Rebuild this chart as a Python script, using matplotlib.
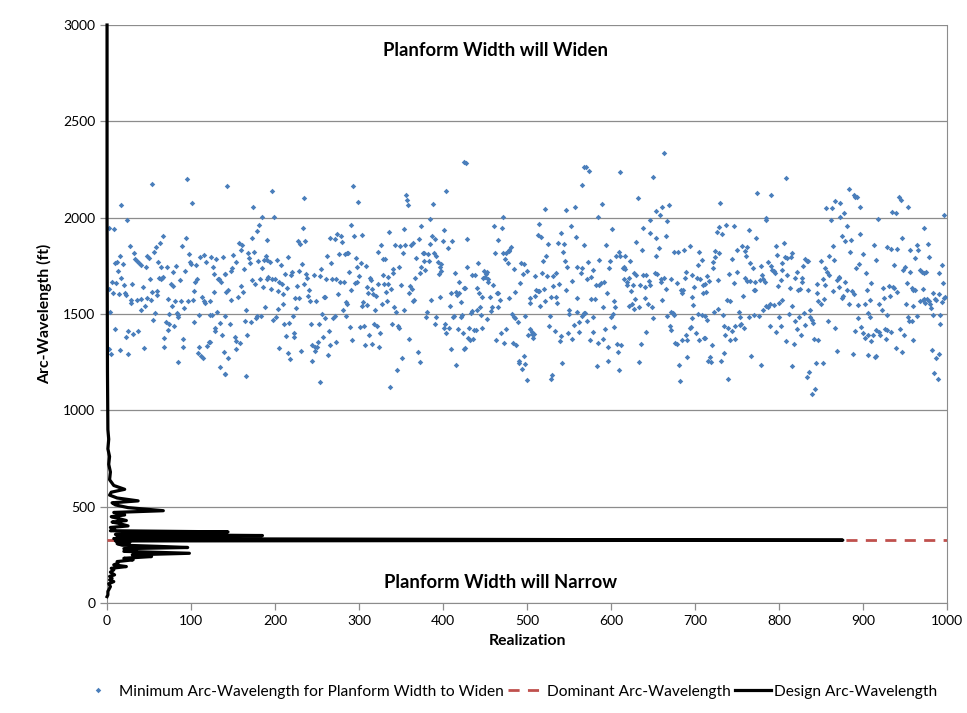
import numpy as np
import matplotlib.pyplot as plt
from matplotlib.lines import Line2D

plt.rcParams['font.family'] = ['Lato', 'DejaVu Sans']

# minimum arc-wavelength for planform width to widen (realization, ft)
min_points = [
    (53, 2176), (95, 2202), (101, 2076), (17, 2067), (2, 1948), (8, 1941), (24, 1989), (67, 1905), (94, 1896),
    (27, 1855), (63, 1867), (58, 1848), (56, 1823), (89, 1855), (32, 1818), (15, 1801), (9, 1766), (12, 1772),
    (19, 1758), (33, 1787), (36, 1775), (38, 1763), (40, 1752), (48, 1801), (50, 1792), (46, 1746), (61, 1768),
    (64, 1746), (71, 1744), (82, 1749), (78, 1718), (93, 1723), (98, 1813), (100, 1761), (99, 1770), (106, 1754),
    (111, 1796), (115, 1806), (118, 1768), (124, 1794), (130, 1784), (126, 1744), (138, 1796), (127, 1709),
    (132, 1683), (136, 1668), (140, 1709), (13, 1723), (17, 1688), (6, 1668), (11, 1662), (20, 1650), (30, 1654),
    (7, 1611), (14, 1604), (21, 1611), (22, 1600), (29, 1571), (29, 1557), (36, 1571), (40, 1579), (41, 1521),
    (43, 1638), (45, 1540), (47, 1583), (52, 1571), (51, 1682), (54, 1616), (59, 1598), (60, 1617), (62, 1685),
    (66, 1688), (64, 1680), (67, 1692), (76, 1657), (79, 1645), (73, 1579), (77, 1543), (81, 1566), (83, 1503),
    (85, 1495), (84, 1486), (87, 1675), (88, 1567), (92, 1533), (96, 1567), (102, 1573), (103, 1621), (105, 1668),
    (107, 1682), (113, 1586), (115, 1567), (117, 1557), (123, 1567), (123, 1495), (127, 1616), (133, 1682),
    (131, 1509), (134, 1451), (140, 1491), (2, 1631), (4, 1509), (55, 1467), (57, 1507), (74, 1498), (109, 1496),
    (125, 1496), (104, 1458), (70, 1458), (72, 1417), (68, 1377), (74, 1448), (80, 1438), (68, 1330), (10, 1420),
    (25, 1412), (31, 1396), (37, 1412), (23, 1382), (2, 1318), (5, 1291), (16, 1315), (25, 1291), (44, 1323),
    (85, 1251), (90, 1370), (91, 1330), (110, 1330), (108, 1297), (112, 1282), (114, 1273), (119, 1332),
    (121, 1353), (123, 1356), (128, 1425), (129, 1410), (137, 1391), (139, 1304), (134, 1227), (140, 1188),
    # 140 - 285
    (143, 2164), (196, 2138), (235, 2104), (174, 2053), (185, 2005), (199, 2002), (181, 1964), (178, 1932),
    (233, 1948), (173, 1894), (191, 1882), (227, 1877), (230, 1865), (236, 1879), (265, 1896), (271, 1891),
    (274, 1915), (279, 1903), (280, 1874), (157, 1870), (161, 1858), (160, 1832), (150, 1808), (168, 1818),
    (175, 1823), (169, 1790), (170, 1766), (153, 1770), (180, 1773), (187, 1782), (189, 1803), (191, 1778),
    (194, 1768), (202, 1778), (207, 1756), (215, 1797), (184, 1739), (262, 1803), (267, 1766), (276, 1813),
    (283, 1810), (149, 1739), (147, 1725), (163, 1735), (212, 1706), (219, 1704), (220, 1716), (229, 1723),
    (232, 1761), (237, 1706), (238, 1688), (246, 1704), (253, 1697), (255, 1733), (261, 1683), (268, 1683),
    (272, 1683), (277, 1668), (282, 1666), (141, 1709), (172, 1676), (176, 1657), (182, 1680), (190, 1683),
    (192, 1692), (196, 1682), (200, 1682), (205, 1668), (208, 1657), (214, 1633), (226, 1647), (234, 1657),
    (186, 1638), (195, 1631), (204, 1617), (210, 1604), (159, 1647), (162, 1612), (144, 1623), (142, 1616),
    (148, 1574), (156, 1588), (240, 1623), (239, 1592), (224, 1583), (228, 1583), (242, 1566), (249, 1567),
    (258, 1588), (260, 1590), (275, 1605), (281, 1522), (209, 1553), (188, 1535), (203, 1526), (225, 1533),
    (166, 1522), (177, 1481), (179, 1488), (183, 1491), (201, 1486), (198, 1470), (221, 1491), (164, 1465),
    (171, 1460), (146, 1446), (211, 1448), (217, 1453), (243, 1446), (252, 1446), (256, 1500), (259, 1481),
    (269, 1481), (271, 1488), (264, 1413), (257, 1379), (251, 1355), (266, 1341), (273, 1355), (167, 1389),
    (152, 1379), (154, 1360), (158, 1351), (213, 1386), (222, 1400), (223, 1379), (205, 1325), (216, 1299),
    (218, 1268), (231, 1308), (244, 1337), (247, 1329), (250, 1329), (248, 1310), (263, 1287), (244, 1258),
    (154, 1316), (144, 1273), (141, 1190), (165, 1180), (254, 1147),
    # 285 - 425
    (425, 2287), (293, 2166), (299, 2081), (356, 2116), (357, 2093), (358, 2066), (388, 2071), (404, 2140),
    (384, 1995), (290, 1962), (294, 1906), (304, 1908), (336, 1927), (353, 1941), (374, 1955), (387, 1906),
    (390, 1887), (401, 1936), (400, 1877), (411, 1877), (406, 1842), (286, 1818), (287, 1815), (326, 1858),
    (343, 1860), (349, 1853), (355, 1860), (362, 1858), (364, 1868), (371, 1891), (385, 1863), (352, 1817),
    (322, 1822), (376, 1818), (377, 1817), (382, 1813), (389, 1818), (392, 1803), (368, 1792), (296, 1789),
    (302, 1766), (308, 1751), (297, 1746), (329, 1785), (331, 1785), (347, 1744), (341, 1732), (377, 1773),
    (383, 1773), (374, 1744), (394, 1772), (398, 1758), (396, 1744), (398, 1725), (379, 1728), (373, 1714),
    (288, 1716), (300, 1695), (328, 1702), (334, 1694), (340, 1713), (367, 1687), (395, 1706), (414, 1711),
    (295, 1662), (298, 1668), (313, 1685), (314, 1675), (322, 1654), (330, 1656), (335, 1656), (350, 1652),
    (361, 1647), (363, 1631), (291, 1624), (310, 1638), (316, 1631), (311, 1611), (317, 1605), (320, 1593),
    (332, 1612), (338, 1628), (359, 1607), (419, 1668), (425, 1633), (409, 1611), (415, 1616), (417, 1600),
    (419, 1607), (284, 1564), (286, 1553), (305, 1562), (333, 1569), (327, 1552), (364, 1569), (366, 1573),
    (386, 1571), (396, 1586), (422, 1560), (303, 1541), (309, 1547), (342, 1535), (319, 1521), (344, 1512),
    (354, 1521), (381, 1510), (408, 1541), (284, 1488), (380, 1483), (392, 1483), (412, 1484), (413, 1488),
    (421, 1486), (423, 1495), (289, 1434), (301, 1434), (306, 1439), (318, 1450), (321, 1439), (339, 1450),
    (346, 1438), (348, 1429), (390, 1446), (402, 1448), (401, 1426), (407, 1429), (418, 1420), (424, 1401),
    (404, 1400), (312, 1393), (325, 1403), (292, 1363), (307, 1341), (315, 1344), (324, 1330), (360, 1370),
    (370, 1301), (372, 1251), (351, 1270), (410, 1318), (425, 1320), (416, 1237), (345, 1209), (337, 1121),
    # 425 - 570
    (427, 2284), (568, 2261), (566, 2168), (521, 2045), (546, 2040), (557, 2057), (471, 2005), (461, 1958),
    (470, 1946), (514, 1967), (552, 1958), (513, 1912), (517, 1900), (540, 1920), (429, 1891), (466, 1886),
    (558, 1900), (525, 1865), (537, 1868), (544, 1865), (568, 1856), (481, 1849), (479, 1834), (478, 1825),
    (475, 1817), (472, 1815), (462, 1817), (543, 1823), (523, 1799), (474, 1784), (477, 1763), (493, 1765),
    (497, 1761), (519, 1773), (545, 1773), (442, 1766), (428, 1742), (548, 1742), (560, 1744), (565, 1739),
    (484, 1735), (500, 1725), (495, 1709), (564, 1711), (435, 1702), (438, 1701), (449, 1723), (451, 1709),
    (452, 1716), (450, 1694), (448, 1687), (454, 1683), (453, 1664), (460, 1650), (510, 1695), (518, 1714),
    (524, 1697), (531, 1699), (534, 1711), (554, 1673), (492, 1663), (538, 1657), (531, 1647), (440, 1637),
    (443, 1611), (464, 1611), (466, 1607), (486, 1612), (511, 1626), (513, 1621), (514, 1619), (520, 1631),
    (547, 1624), (426, 1633), (446, 1586), (456, 1590), (468, 1573), (479, 1583), (503, 1583), (509, 1592),
    (528, 1590), (535, 1588), (560, 1585), (521, 1569), (504, 1559), (516, 1541), (536, 1557), (444, 1538),
    (440, 1522), (458, 1536), (457, 1514), (465, 1538), (434, 1514), (433, 1505), (445, 1495), (482, 1498),
    (484, 1484), (486, 1477), (489, 1457), (498, 1488), (527, 1491), (550, 1522), (550, 1500), (559, 1509),
    (568, 1507), (452, 1472), (566, 1491), (556, 1444), (562, 1460), (431, 1429), (437, 1415), (439, 1417),
    (447, 1429), (475, 1420), (504, 1420), (506, 1406), (506, 1398), (508, 1398), (501, 1391), (507, 1377),
    (526, 1436), (533, 1412), (541, 1386), (549, 1400), (562, 1408), (554, 1370), (539, 1358), (469, 1401),
    (430, 1377), (432, 1363), (436, 1372), (426, 1322), (463, 1363), (473, 1351), (483, 1348), (487, 1337),
    (496, 1280), (491, 1258), (490, 1246), (498, 1239), (494, 1214), (500, 1159), (530, 1185), (529, 1161),
    (542, 1246),
    # 570 - 712
    (663, 2334), (570, 2265), (574, 2244), (611, 2237), (650, 2209), (632, 2100), (589, 2073), (654, 2036),
    (661, 2057), (669, 2067), (658, 2012), (585, 2005), (647, 1989), (667, 1984), (601, 1941), (638, 1946),
    (646, 1922), (665, 1906), (654, 1896), (630, 1872), (594, 1858), (657, 1844), (637, 1830), (675, 1823),
    (680, 1823), (687, 1834), (694, 1853), (705, 1823), (609, 1820), (606, 1799), (611, 1803), (617, 1801),
    (653, 1799), (708, 1778), (586, 1778), (599, 1773), (623, 1775), (573, 1770), (703, 1754), (598, 1739),
    (614, 1737), (615, 1744), (617, 1733), (579, 1730), (689, 1720), (627, 1713), (630, 1701), (638, 1704),
    (642, 1704), (652, 1713), (655, 1708), (697, 1702), (576, 1694), (571, 1683), (615, 1683), (622, 1685),
    (663, 1687), (660, 1682), (672, 1680), (688, 1685), (702, 1687), (706, 1683), (645, 1671), (659, 1664),
    (592, 1668), (588, 1659), (582, 1652), (586, 1652), (619, 1664), (619, 1652), (626, 1652), (635, 1652),
    (647, 1652), (678, 1662), (710, 1652), (710, 1609), (640, 1642), (699, 1640), (665, 1631), (624, 1621),
    (683, 1623), (686, 1626), (684, 1611), (595, 1609), (576, 1578), (581, 1579), (640, 1585), (629, 1579),
    (661, 1574), (696, 1588), (604, 1569), (644, 1550), (621, 1543), (625, 1550), (633, 1538), (627, 1528),
    (649, 1538), (590, 1534), (605, 1538), (698, 1547), (672, 1512), (674, 1505), (675, 1495), (704, 1500),
    (708, 1495), (712, 1489), (602, 1502), (569, 1507), (579, 1486), (600, 1483), (571, 1465), (650, 1481),
    (667, 1488), (696, 1479), (670, 1436), (671, 1415), (694, 1429), (695, 1432), (603, 1432), (593, 1422),
    (578, 1405), (642, 1408), (689, 1393), (701, 1403), (575, 1365), (584, 1348), (590, 1370), (607, 1346),
    (612, 1339), (596, 1329), (636, 1346), (676, 1349), (678, 1342), (685, 1363), (690, 1365), (705, 1367),
    (711, 1374), (608, 1304), (583, 1232), (596, 1256), (609, 1209), (633, 1251), (691, 1278), (681, 1237),
    (682, 1152),
    # 712 - 855
    (808, 2207), (774, 2130), (791, 2118), (784, 2000), (785, 1989), (730, 2078), (726, 1924), (732, 1915),
    (729, 1951), (737, 1960), (746, 1957), (764, 1934), (773, 1896), (806, 1867), (796, 1851), (756, 1855),
    (762, 1849), (750, 1834), (760, 1829), (724, 1829), (728, 1817), (798, 1806), (761, 1803), (744, 1785),
    (724, 1797), (807, 1794), (810, 1789), (814, 1797), (816, 1818), (831, 1785), (833, 1777), (835, 1775),
    (850, 1773), (722, 1768), (765, 1763), (804, 1765), (721, 1739), (769, 1740), (778, 1751), (787, 1770),
    (791, 1751), (792, 1730), (794, 1723), (795, 1713), (804, 1730), (828, 1751), (821, 1716), (810, 1702),
    (780, 1702), (714, 1699), (741, 1706), (750, 1720), (717, 1671), (727, 1676), (759, 1688), (762, 1671),
    (766, 1671), (771, 1664), (777, 1678), (781, 1682), (783, 1668), (802, 1676), (819, 1685), (827, 1688),
    (827, 1668), (746, 1662), (712, 1657), (799, 1647), (813, 1633), (823, 1623), (825, 1628), (834, 1624),
    (845, 1657), (852, 1682), (770, 1626), (772, 1623), (757, 1593), (738, 1571), (742, 1567), (845, 1611),
    (847, 1567), (850, 1550), (853, 1579), (713, 1614), (804, 1574), (800, 1557), (789, 1550), (794, 1547),
    (784, 1540), (787, 1536), (781, 1522), (815, 1540), (727, 1528), (723, 1509), (733, 1495), (752, 1512),
    (753, 1483), (755, 1450), (770, 1496), (764, 1484), (776, 1488), (812, 1500), (800, 1483), (824, 1483),
    (830, 1505), (837, 1521), (837, 1483), (839, 1469), (841, 1451), (714, 1469), (734, 1436), (739, 1429),
    (744, 1413), (748, 1439), (754, 1443), (758, 1427), (789, 1436), (802, 1439), (796, 1408), (819, 1465),
    (822, 1424), (831, 1441), (826, 1391), (736, 1393), (742, 1365), (748, 1370), (712, 1374), (720, 1339),
    (808, 1361), (818, 1344), (842, 1368), (847, 1367), (735, 1296), (767, 1284), (718, 1275), (716, 1256),
    (719, 1253), (731, 1256), (778, 1233), (816, 1232), (844, 1247), (852, 1244), (836, 1199), (833, 1171),
    (739, 1164), (843, 1112), (839, 1086),
    # 855 - 1000
    (883, 2149), (889, 2116), (891, 2109), (893, 2109), (867, 2088), (873, 2076), (856, 2048), (863, 2048),
    (897, 2055), (877, 2026), (873, 2005), (862, 1989), (943, 2105), (945, 2090), (954, 2053), (935, 2031),
    (939, 2024), (918, 1995), (997, 2015), (881, 1957), (973, 1946), (875, 1906), (897, 1913), (879, 1879),
    (886, 1882), (946, 1894), (864, 1855), (913, 1860), (928, 1846), (933, 1835), (941, 1835), (964, 1860),
    (977, 1863), (956, 1832), (966, 1830), (885, 1822), (900, 1813), (859, 1801), (866, 1782), (916, 1778),
    (962, 1789), (979, 1797), (895, 1761), (892, 1739), (937, 1752), (950, 1746), (948, 1730), (956, 1720),
    (968, 1727), (970, 1716), (973, 1713), (975, 1716), (990, 1714), (994, 1752), (855, 1740), (857, 1718),
    (860, 1702), (904, 1711), (869, 1676), (871, 1685), (872, 1690), (879, 1668), (910, 1661), (952, 1659),
    (995, 1661), (855, 1650), (871, 1642), (931, 1643), (936, 1640), (937, 1635), (924, 1635), (958, 1636),
    (960, 1626), (962, 1626), (972, 1631), (864, 1621), (881, 1623), (887, 1621), (889, 1602), (905, 1623),
    (941, 1616), (983, 1611), (990, 1605), (996, 1585), (998, 1590), (876, 1595), (875, 1585), (932, 1595),
    (925, 1583), (968, 1569), (971, 1574), (973, 1579), (976, 1576), (978, 1569), (974, 1557), (980, 1552),
    (981, 1529), (986, 1578), (987, 1571), (994, 1564), (883, 1554), (894, 1545), (902, 1550), (908, 1573),
    (919, 1552), (951, 1550), (960, 1541), (923, 1522), (906, 1505), (908, 1486), (929, 1495), (954, 1483),
    (964, 1490), (983, 1495), (992, 1496), (894, 1481), (858, 1464), (867, 1426), (890, 1413), (898, 1432),
    (900, 1401), (916, 1419), (919, 1405), (920, 1391), (926, 1422), (928, 1419), (912, 1389), (933, 1405),
    (944, 1424), (949, 1393), (955, 1465), (958, 1462), (992, 1446), (902, 1375), (906, 1389), (910, 1358),
    (927, 1372), (960, 1367), (939, 1322), (947, 1301), (869, 1310), (888, 1292), (906, 1289), (914, 1277),
    (915, 1284), (982, 1311), (991, 1292), (987, 1270), (985, 1195), (989, 1162),
]

# design arc-wavelength curve: count (x) against wavelength (y), from top to bottom
design_wavelength = [3000, 2000, 1200, 900, 850, 800, 760, 720, 680, 640, 610, 590, 575, 560, 545, 530, 520,
                     509, 495, 479, 470, 457, 448, 440, 428, 420, 414, 400, 392, 383, 375, 369, 365, 362, 356,
                     350, 345, 340, 334, 326, 322, 318, 314, 308, 300, 294, 288, 282, 276, 268, 258, 250, 241,
                     232, 224, 215, 206, 198, 189, 180, 172, 160, 146, 138, 128, 120, 111, 100, 85, 60, 42, 33]
design_count = [0, 0, 0.5, 1, 2, 1, 3, 2, 4, 3, 8, 21, 5, 3, 12, 37, 6,
                10, 25, 67, 8, 21, 5, 12, 23, 6, 13, 25, 4, 9, 4, 144, 20, 51, 10,
                185, 12, 31, 8, 876, 10, 20, 27, 12, 18, 60, 96, 20, 35, 20, 98, 30, 53,
                20, 31, 12, 13, 8, 23, 5, 8, 4, 9, 3, 6, 3, 8, 2, 4, 1, 1, 0]

dominant_wavelength = 328

realization = [p[0] for p in min_points]
min_arc = [p[1] for p in min_points]

fig = plt.figure(figsize=(9.67, 7.13), dpi=100)
ax = fig.add_axes([0.1107, 0.1543, 0.8686, 0.8106])

grid_col = '#8c8c8c'
ax.set_xlim(0, 1000)
ax.set_ylim(0, 3000)
ax.set_yticks(np.arange(0, 3001, 500))
ax.set_xticks(np.arange(0, 1001, 100))
ax.yaxis.grid(True, color=grid_col, lw=0.9)
ax.set_axisbelow(True)

for s in ['left', 'bottom', 'right', 'top']:
    ax.spines[s].set_color(grid_col)
ax.spines['top'].set_visible(False)
ax.tick_params(axis='both', colors=grid_col, labelcolor='black', labelsize=10, length=5, width=0.9)

ax.plot(realization, min_arc, linestyle='none', marker='D', markersize=2.8,
        color='#4a7ebb', markeredgewidth=0, zorder=3)
ax.plot([0, 1000], [dominant_wavelength, dominant_wavelength], color='#c0504d', lw=2,
        dashes=(4, 3), zorder=4)
ax.plot(design_count, design_wavelength, color='black', lw=2.3, zorder=5, clip_on=False)

ax.text(462, 2870, 'Planform Width will Widen', ha='center', va='center', fontsize=13.3, fontweight='bold')
ax.text(469, 104, 'Planform Width will Narrow', ha='center', va='center', fontsize=13.3, fontweight='bold')

ax.set_xlabel('Realization', fontsize=11.3, fontweight='bold', labelpad=5)
ax.set_ylabel('Arc-Wavelength (ft)', fontsize=11.3, fontweight='bold', labelpad=8)

handles = [
    Line2D([], [], linestyle='none', marker='D', markersize=2.8, color='#4a7ebb', markeredgewidth=0),
    Line2D([], [], color='#c0504d', lw=2, dashes=(4, 3)),
    Line2D([], [], color='black', lw=2.3),
]
labels = ['Minimum Arc-Wavelength for Planform Width to Widen', 'Dominant Arc-Wavelength',
          'Design Arc-Wavelength']
fig.legend(handles, labels, loc='center', bbox_to_anchor=(0.526, 0.03), ncol=3, frameon=False,
           fontsize=11.2, handlelength=2.3, columnspacing=0.3, handletextpad=0.2)

fig.savefig('out.png', dpi=100)
